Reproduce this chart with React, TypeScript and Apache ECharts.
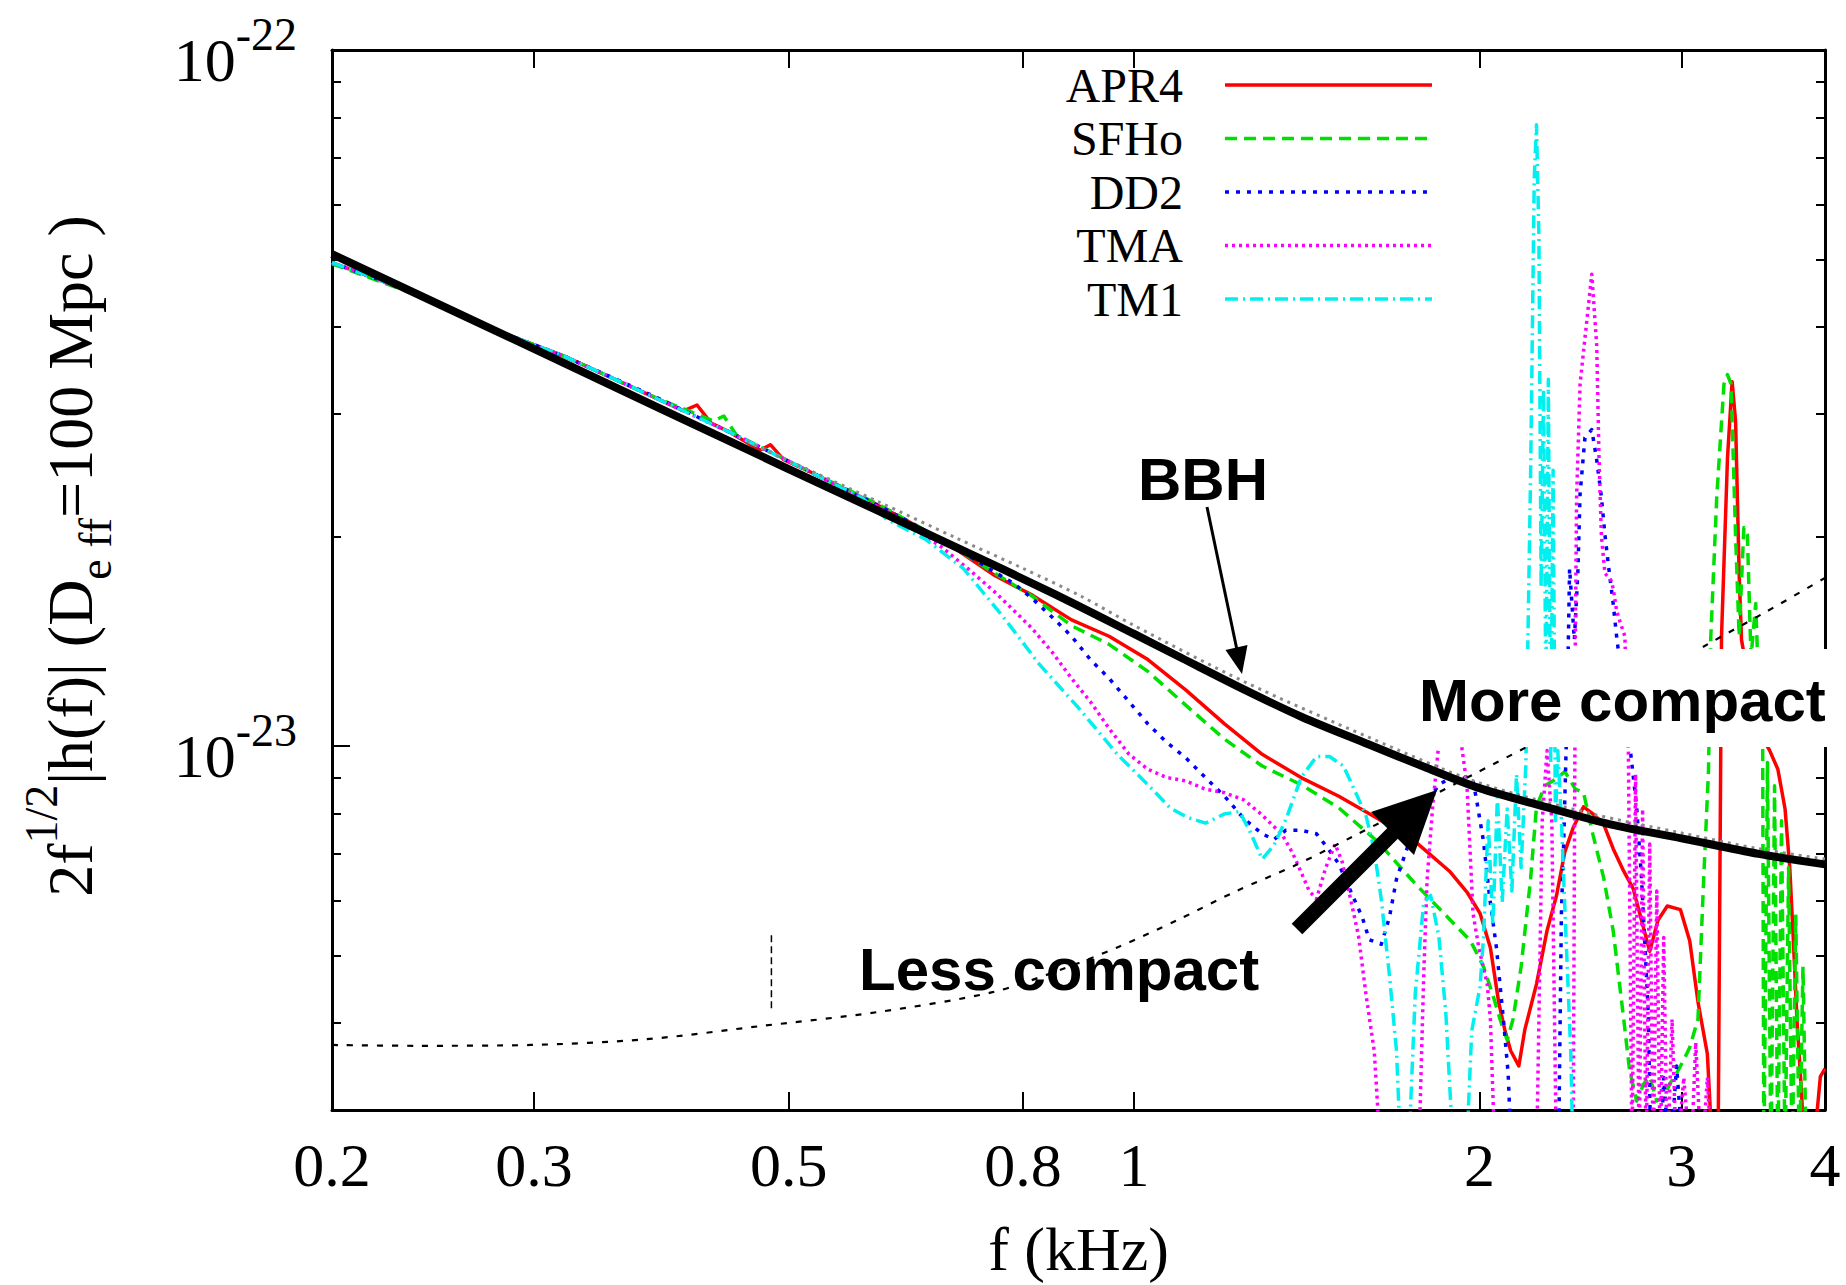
import React, { useEffect, useRef } from "react";
import * as echarts from "echarts";

// f in kHz ; amplitude 2 f^{1/2}|h(f)| in units of 1e-23 (D_eff = 100 Mpc)
const X_TICK_VALUES = [0.2, 0.3, 0.5, 0.8, 1, 2, 3, 4];
const Y_MAJOR_TICKS = [1, 10];
const Y_MINOR_TICKS = [0.3, 0.4, 0.5, 0.6, 0.7, 0.8, 0.9, 2, 3, 4, 5, 6, 7, 8, 9];
const Y_EXPONENTS = ["-23", "-22"];

const EOS_NAMES = ["APR4", "SFHo", "DD2", "TMA", "TM1"];

const APR4 = [[0.2,4.95],[0.235,4.49],[0.271,4.02],[0.319,3.63],[0.377,3.2],[0.405,3.03],[0.416,3.09],[0.428,2.91],[0.445,2.82],[0.472,2.66],[0.482,2.71],[0.495,2.58],[0.524,2.47],[0.604,2.2],[0.68,1.98],[0.756,1.758],[0.816,1.646],[0.882,1.518],[0.951,1.438],[1.028,1.331],[1.109,1.204],[1.199,1.076],[1.293,0.973],[1.398,0.901],[1.508,0.847],[1.63,0.787],[1.758,0.729],[1.883,0.661],[1.95,0.617],[2.002,0.575],[2.044,0.513],[2.078,0.429],[2.104,0.391],[2.129,0.365],[2.164,0.347],[2.19,0.391],[2.242,0.455],[2.29,0.543],[2.334,0.61],[2.373,0.704],[2.413,0.763],[2.464,0.818],[2.511,0.799],[2.566,0.772],[2.615,0.712],[2.671,0.661],[2.722,0.624],[2.768,0.562],[2.814,0.507],[2.861,0.562],[2.915,0.589],[2.993,0.582],[3.049,0.525],[3.1,0.429],[3.159,0.361],[3.196,0.25],[3.227,0.25],[3.25,1.438],[3.289,2.587],[3.32,3.338],[3.343,2.927],[3.367,1.771],[3.383,1.421],[3.44,1.218],[3.513,1.043],[3.58,0.985],[3.639,0.926],[3.692,0.812],[3.727,0.669],[3.753,0.531],[3.781,0.405],[3.817,0.315],[3.844,0.25],[3.898,0.25],[3.963,0.335],[4.0,0.344]];

const SFHO = [[0.2,4.93],[0.235,4.47],[0.271,4.02],[0.319,3.63],[0.377,3.2],[0.43,2.93],[0.439,2.98],[0.45,2.8],[0.524,2.47],[0.59,2.25],[0.6,2.22],[0.68,1.98],[0.756,1.771],[0.816,1.64],[0.882,1.489],[0.951,1.4],[1.028,1.28],[1.109,1.145],[1.199,1.023],[1.293,0.936],[1.398,0.88],[1.508,0.815],[1.63,0.729],[1.758,0.634],[1.887,0.562],[1.964,0.525],[2.016,0.482],[2.054,0.439],[2.084,0.405],[2.114,0.378],[2.139,0.405],[2.174,0.482],[2.216,0.646],[2.242,0.818],[2.28,0.877],[2.334,0.898],[2.373,0.919],[2.424,0.867],[2.464,0.857],[2.511,0.746],[2.566,0.646],[2.615,0.543],[2.671,0.405],[2.702,0.343],[2.741,0.309],[2.78,0.327],[2.814,0.335],[2.854,0.309],[2.894,0.313],[2.929,0.327],[2.97,0.339],[3.013,0.354],[3.049,0.369],[3.1,0.405],[3.136,0.646],[3.166,0.919],[3.181,1.438],[3.219,2.278],[3.266,3.312],[3.289,3.417],[3.313,3.312],[3.343,2.005],[3.367,1.438],[3.399,2.06],[3.423,2.013],[3.448,1.341],[3.481,1.602],[3.505,1.149],[3.53,0.985],[3.538,0.25],[3.564,0.947],[3.589,0.25],[3.615,0.877],[3.639,0.25],[3.666,0.781],[3.692,0.25],[3.718,0.669],[3.745,0.25],[3.772,0.573],[3.8,0.25],[3.827,0.482],[3.853,0.25],[3.908,0.25]];

const DD2 = [[0.2,4.95],[0.235,4.49],[0.271,4.02],[0.319,3.63],[0.377,3.21],[0.445,2.82],[0.524,2.47],[0.604,2.2],[0.68,1.98],[0.756,1.778],[0.786,1.711],[0.816,1.627],[0.849,1.53],[0.882,1.438],[0.916,1.331],[0.951,1.251],[0.99,1.158],[1.028,1.076],[1.068,1.012],[1.109,0.962],[1.154,0.901],[1.199,0.847],[1.246,0.787],[1.293,0.748],[1.324,0.734],[1.356,0.757],[1.398,0.757],[1.442,0.748],[1.476,0.712],[1.508,0.677],[1.544,0.619],[1.581,0.567],[1.603,0.527],[1.642,0.519],[1.669,0.567],[1.693,0.644],[1.733,0.72],[1.788,0.815],[1.843,0.88],[1.883,0.898],[1.928,0.901],[1.974,0.891],[1.988,0.837],[2.016,0.729],[2.04,0.61],[2.069,0.513],[2.098,0.405],[2.118,0.339],[2.134,0.25],[2.334,0.25],[2.346,0.3],[2.357,0.575],[2.368,0.729],[2.385,1.149],[2.396,1.799],[2.419,1.421],[2.436,1.771],[2.447,2.304],[2.471,2.773],[2.505,2.849],[2.53,2.577],[2.554,2.278],[2.572,2.013],[2.59,1.82],[2.615,1.602],[2.633,1.438],[2.702,1.012],[2.741,0.818],[2.768,0.646],[2.788,0.513],[2.807,0.405],[2.821,0.25],[2.874,0.25],[2.894,0.334],[2.929,0.25],[2.97,0.347],[3.013,0.25]];

const TMA = [[0.2,4.95],[0.235,4.48],[0.271,4.02],[0.319,3.63],[0.377,3.2],[0.445,2.82],[0.524,2.47],[0.62,2.14],[0.68,1.93],[0.716,1.8],[0.756,1.665],[0.786,1.565],[0.816,1.472],[0.849,1.362],[0.882,1.251],[0.916,1.158],[0.951,1.06],[0.99,0.973],[1.028,0.926],[1.068,0.901],[1.109,0.891],[1.154,0.867],[1.199,0.857],[1.246,0.837],[1.293,0.796],[1.346,0.746],[1.375,0.701],[1.398,0.659],[1.421,0.619],[1.442,0.603],[1.469,0.669],[1.497,0.723],[1.518,0.682],[1.544,0.603],[1.569,0.533],[1.592,0.441],[1.619,0.365],[1.642,0.25],[1.766,0.25],[1.775,0.3],[1.788,0.469],[1.8,0.641],[1.821,0.824],[1.843,1.008],[1.883,1.195],[1.928,1.008],[1.95,0.88],[1.974,0.575],[1.997,0.513],[2.031,0.455],[2.044,0.405],[2.064,0.25],[2.242,0.25],[2.268,0.781],[2.29,0.985],[2.312,0.781],[2.334,0.25],[2.413,0.25],[2.424,1.438],[2.43,2.278],[2.447,3.312],[2.505,4.764],[2.53,3.763],[2.542,2.577],[2.554,2.005],[2.572,1.771],[2.603,1.731],[2.615,1.685],[2.633,1.565],[2.652,1.506],[2.677,1.438],[2.696,0.985],[2.716,0.25],[2.735,0.911],[2.755,0.25],[2.774,0.812],[2.794,0.25],[2.814,0.723],[2.834,0.25],[2.854,0.619],[2.874,0.25],[2.894,0.531],[2.915,0.25],[2.943,0.405],[2.97,0.25],[3.013,0.334],[3.056,0.25],[3.086,0.375],[3.122,0.25],[3.159,0.334],[3.189,0.25]];

const TM1 = [[0.2,4.95],[0.235,4.49],[0.271,4.02],[0.319,3.63],[0.377,3.2],[0.445,2.82],[0.524,2.47],[0.58,2.27],[0.609,2.116],[0.658,1.982],[0.71,1.799],[0.767,1.542],[0.827,1.31],[0.894,1.136],[0.967,0.973],[1.028,0.88],[1.075,0.815],[1.112,0.79],[1.154,0.775],[1.199,0.799],[1.236,0.805],[1.263,0.751],[1.293,0.688],[1.324,0.72],[1.356,0.784],[1.398,0.901],[1.442,0.966],[1.48,0.966],[1.522,0.936],[1.555,0.867],[1.592,0.796],[1.619,0.709],[1.642,0.603],[1.669,0.469],[1.693,0.365],[1.709,0.25],[1.733,0.25],[1.758,0.441],[1.788,0.596],[1.813,0.61],[1.843,0.533],[1.869,0.4145],[1.9,0.25],[1.946,0.25],[1.969,0.39],[2.002,0.451],[2.016,0.531],[2.035,0.781],[2.054,0.552],[2.073,0.844],[2.093,0.596],[2.114,0.812],[2.134,0.619],[2.154,0.911],[2.174,0.669],[2.195,0.947],[2.216,2.49],[2.232,6.54],[2.242,7.81],[2.253,5.39],[2.263,1.69],[2.274,3.262],[2.285,1.149],[2.296,3.364],[2.307,0.947],[2.318,2.49],[2.329,0.781],[2.34,0.985],[2.357,0.781],[2.379,0.531],[2.402,0.361],[2.413,0.25]];

const BBH = [[0.2,5.09],[0.3,3.72],[0.5,2.5],[0.7,1.93],[0.85,1.657],[1.0,1.449],[1.1,1.338],[1.25,1.203],[1.4,1.101],[1.6,1.006],[1.8,0.93],[2.0,0.87],[2.3,0.815],[2.6,0.772],[3.0,0.737],[3.5,0.7],[4.0,0.676]];

const BBH_DOTTED = [[0.46,2.74],[0.5,2.57],[0.6,2.24],[0.7,1.99],[0.8,1.8],[0.9,1.64],[1.0,1.49],[1.25,1.235],[1.6,1.03],[2.0,0.885],[2.5,0.8],[3.0,0.75],[3.5,0.712],[4.0,0.688]];

const NOISE = [[0.2,0.372],[0.2365,0.371],[0.298,0.372],[0.375,0.379],[0.4726,0.396],[0.596,0.4145],[0.751,0.4426],[0.861,0.4764],[0.969,0.5145],[1.091,0.5623],[1.228,0.619],[1.382,0.674],[1.555,0.743],[1.75,0.821],[1.969,0.908],[2.216,1.004],[2.494,1.119],[2.807,1.251],[3.16,1.4],[3.556,1.56],[4.0,1.744]];

const MARKER = [[0.483,0.42],[0.483,0.54]];

const EOS_DATA = [APR4, SFHO, DD2, TMA, TM1];

// styles (not data)
const EOS_COLORS = ["#ff0000", "#00e000", "#0000ff", "#ff00ff", "#00f0f0"];
const EOS_DASH: any[] = ["solid", [12, 7], [4, 7], [3, 4], [13, 5, 2, 5]];
const LEGEND_ROWS_Y = [85, 138.5, 192, 245.5, 299];

const SERIF = "Liberation Serif";
const SANS = "Liberation Sans";

function buildOption() {
  const lineSeries = (name: string, data: number[][], color: string, width: number, type: any, z: number, smooth = false) => ({
    type: "line",
    name,
    data,
    xAxisIndex: 0,
    yAxisIndex: 0,
    showSymbol: false,
    symbol: "none",
    silent: true,
    clip: true,
    smooth: smooth ? 0.3 : false,
    z,
    lineStyle: { color, width, type, cap: "butt", join: "round" },
  });

  const series: any[] = EOS_NAMES.map((n, i) =>
    lineSeries(n, EOS_DATA[i], EOS_COLORS[i], 3.5, EOS_DASH[i], 2 + i)
  );
  series.push(lineSeries("BBH dotted", BBH_DOTTED, "#8a8a8a", 3, [3, 5], 8, true));
  series.push(lineSeries("BBH", BBH, "#000000", 8, "solid", 9, true));
  series.push(lineSeries("noise", NOISE, "#000000", 2.2, [6, 9], 10, true));
  series.push(lineSeries("marker", MARKER, "#000000", 1.5, [7, 4], 10));

  const axisLineStyle = { color: "#000", width: 3 };
  const tickLineStyle = { color: "#000", width: 2 };

  const xBase: any = {
    type: "log",
    logBase: 10,
    min: 0.2,
    max: 4,
    splitLine: { show: false },
    minorTick: { show: false },
    minorSplitLine: { show: false },
  };
  const yBase: any = {
    type: "log",
    logBase: 10,
    min: 0.3,
    max: 10,
    splitLine: { show: false },
    minorTick: { show: false },
    minorSplitLine: { show: false },
  };

  const xAxis = [
    {
      ...xBase,
      position: "bottom",
      axisLine: { show: true, lineStyle: axisLineStyle },
      axisTick: { show: true, inside: true, length: 18, customValues: X_TICK_VALUES, lineStyle: tickLineStyle },
      axisLabel: {
        show: true,
        customValues: X_TICK_VALUES,
        showMinLabel: true,
        showMaxLabel: true,
        formatter: (v: number) => String(Math.round(v * 10) / 10),
        fontFamily: SERIF,
        fontSize: 62,
        color: "#000",
        margin: 24,
      },
      name: "f (kHz)",
      nameLocation: "middle",
      nameGap: 108,
      nameTextStyle: { fontFamily: SERIF, fontSize: 62, color: "#000" },
    },
    {
      ...xBase,
      position: "top",
      axisLine: { show: true, lineStyle: axisLineStyle },
      axisTick: { show: true, inside: true, length: 18, customValues: X_TICK_VALUES, lineStyle: tickLineStyle },
      axisLabel: { show: false },
    },
  ];

  const yAxis = [
    {
      ...yBase,
      position: "left",
      axisLine: { show: true, lineStyle: axisLineStyle },
      axisTick: { show: true, inside: true, length: 18, customValues: Y_MAJOR_TICKS, lineStyle: tickLineStyle },
      axisLabel: {
        show: true,
        customValues: Y_MAJOR_TICKS,
        showMinLabel: true,
        showMaxLabel: true,
        margin: 35,
        padding: [20, 0, 0, 0],
        formatter: (v: number) => "{b|10}{s|" + (v > 3 ? Y_EXPONENTS[1] : Y_EXPONENTS[0]) + "}",
        rich: {
          b: { fontFamily: SERIF, fontSize: 62, color: "#000" },
          s: { fontFamily: SERIF, fontSize: 46, color: "#000", padding: [0, 0, 52, 0] },
        },
      },
    },
    {
      ...yBase,
      position: "left",
      axisLine: { show: false },
      axisTick: { show: true, inside: true, length: 9, customValues: Y_MINOR_TICKS, lineStyle: tickLineStyle },
      axisLabel: { show: false },
    },
    {
      ...yBase,
      position: "right",
      axisLine: { show: true, lineStyle: axisLineStyle },
      axisTick: { show: true, inside: true, length: 18, customValues: Y_MAJOR_TICKS, lineStyle: tickLineStyle },
      axisLabel: { show: false },
    },
    {
      ...yBase,
      position: "right",
      axisLine: { show: false },
      axisTick: { show: true, inside: true, length: 9, customValues: Y_MINOR_TICKS, lineStyle: tickLineStyle },
      axisLabel: { show: false },
    },
  ];

  const txt = (text: string, x: number, y: number, size: number, family: string, weight: string, align: string) => ({
    type: "text",
    x,
    y,
    silent: true,
    z: 100,
    style: {
      text,
      fill: "#000",
      fontSize: size,
      fontFamily: family,
      fontWeight: weight,
      align,
      textAlign: align,
      verticalAlign: "middle",
      textVerticalAlign: "middle",
    },
  });

  const elements: any[] = [];

  // y axis title (rotated, with super/subscripts)
  elements.push({
    type: "text",
    x: 70,
    y: 556,
    rotation: Math.PI / 2,
    silent: true,
    z: 100,
    style: {
      text: "{b|2f}{sup|1/2}{b||h(f)| (D}{sub|e ff}{b|=100 Mpc )}",
      align: "center",
      verticalAlign: "middle",
      rich: {
        b: { fontFamily: SERIF, fontSize: 64, fill: "#000", color: "#000" },
        sup: { fontFamily: SERIF, fontSize: 46, fill: "#000", color: "#000", padding: [0, 0, 58, 0] },
        sub: { fontFamily: SERIF, fontSize: 46, fill: "#000", color: "#000", padding: [50, 0, 0, 0] },
      },
    },
  });

  // white band behind "More compact" (hides curves and frame there, as in the original)
  elements.push({
    type: "rect",
    silent: true,
    z: 95,
    shape: { x: 1405, y: 649, width: 441, height: 98 },
    style: { fill: "#ffffff" },
  });

  // annotations
  elements.push(txt("BBH", 1138, 479, 60, SANS, "bold", "left"));
  elements.push(txt("More compact", 1419, 700, 60, SANS, "bold", "left"));
  elements.push(txt("Less compact", 859, 969, 60, SANS, "bold", "left"));

  // thin arrow from BBH label
  elements.push({
    type: "line",
    silent: true,
    z: 100,
    shape: { x1: 1207, y1: 507, x2: 1237, y2: 650 },
    style: { stroke: "#000", lineWidth: 3 },
  });
  elements.push({
    type: "polygon",
    silent: true,
    z: 100,
    shape: { points: [[1242, 674], [1247.5, 645], [1225.5, 650]] },
    style: { fill: "#000" },
  });

  // thick arrow
  elements.push({
    type: "line",
    silent: true,
    z: 100,
    shape: { x1: 1297, y1: 929, x2: 1396, y2: 830 },
    style: { stroke: "#000", lineWidth: 15 },
  });
  elements.push({
    type: "polygon",
    silent: true,
    z: 100,
    shape: { points: [[1437, 790], [1371, 812], [1414, 855]] },
    style: { fill: "#000" },
  });

  // legend
  EOS_NAMES.forEach((n, i) => {
    const y = LEGEND_ROWS_Y[i];
    elements.push(txt(n, 1183, y, 48, SERIF, "normal", "right"));
    elements.push({
      type: "line",
      silent: true,
      z: 100,
      shape: { x1: 1225, y1: y, x2: 1432, y2: y },
      style: {
        stroke: EOS_COLORS[i],
        lineWidth: 3.5,
        lineDash: EOS_DASH[i] === "solid" ? null : EOS_DASH[i],
      },
    });
  });

  return {
    animation: false,
    backgroundColor: "#ffffff",
    grid: { left: 332, right: 21, top: 50, bottom: 169, containLabel: false },
    xAxis,
    yAxis,
    series,
    graphic: { elements },
  };
}

export default function App() {
  const ref = useRef<HTMLDivElement>(null);
  useEffect(() => {
    if (!ref.current) return;
    const chart = echarts.init(ref.current, null, { renderer: "svg" });
    chart.setOption(buildOption() as any);
    return () => {
      chart.dispose();
    };
  }, []);
  return (
    <div
      ref={ref}
      style={{ position: "fixed", left: 0, top: 0, width: 1846, height: 1285, background: "#fff" }}
    />
  );
}
